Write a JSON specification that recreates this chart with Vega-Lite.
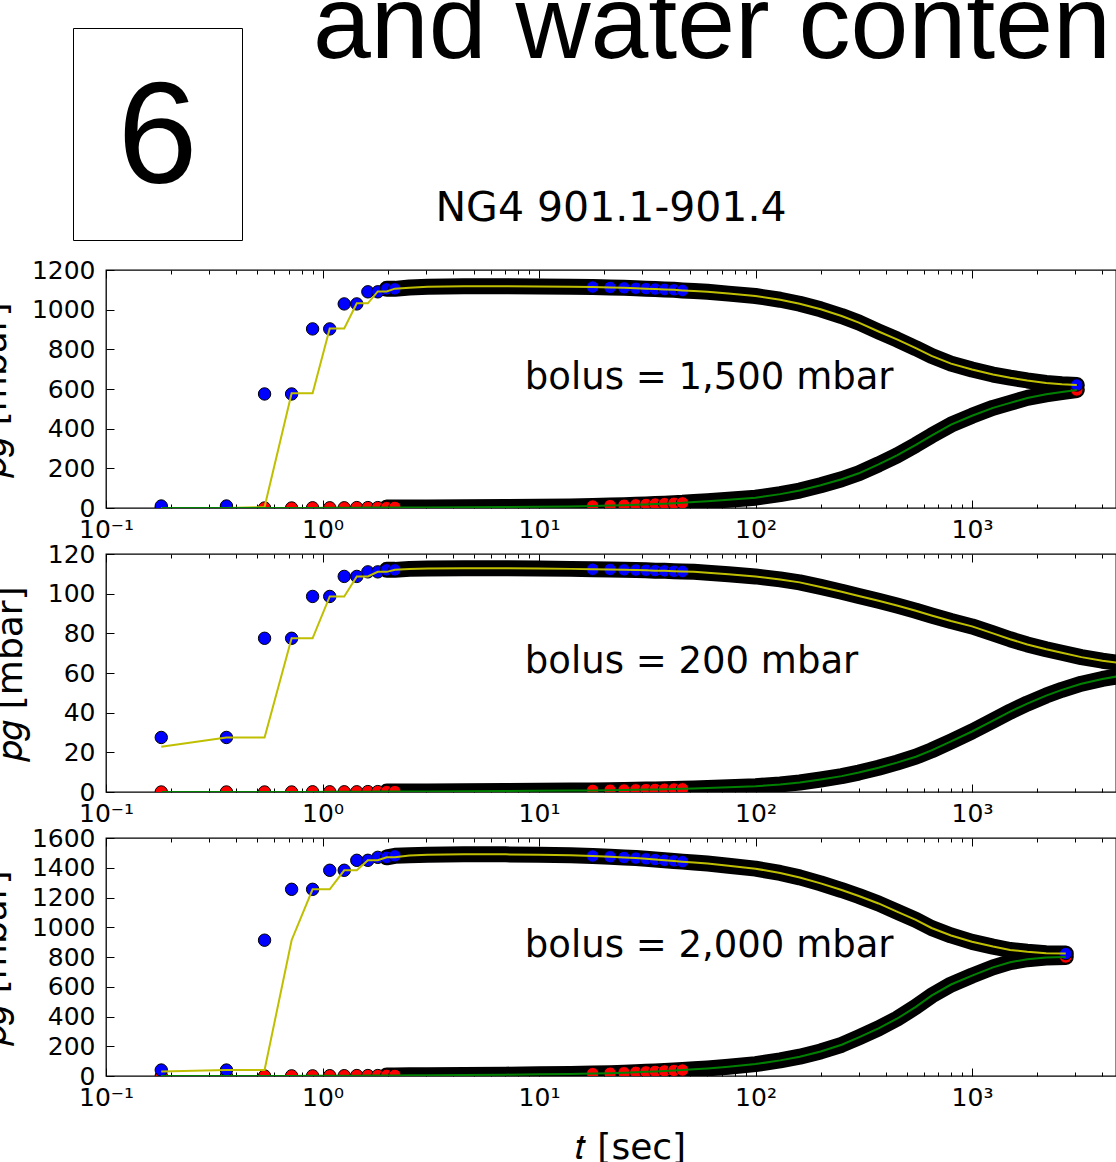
{
  "$schema": "https://vega.github.io/schema/vega-lite/v6.json",
  "background": "white",
  "padding": {"left": -25, "top": -26, "right": 0, "bottom": 0},
  "config": {
    "view": {"stroke": "black", "strokeWidth": 1.3},
    "axis": {"grid": false, "domain": false, "labelFont": "DejaVu Sans", "labelFontSize": 25, "labelColor": "black", "labelFontWeight": "normal", "titleFont": "DejaVu Sans", "titleFontSize": 36, "titleFontWeight": "normal", "titleColor": "black", "tickColor": "black", "tickWidth": 1, "labelOverlap": false, "labelFlush": false, "labelBound": false},
    "title": {"color": "black", "fontWeight": "normal"}
  },
  "datasets": {
    "p1": [
      {"t":0.18,"hi":10,"lo":0,"fhi":0,"flo":0},
      {"t":0.36,"hi":10,"lo":0,"fhi":0,"flo":0},
      {"t":0.54,"hi":575,"lo":0,"fhi":5,"flo":0},
      {"t":0.72,"hi":575,"lo":0,"fhi":578,"flo":0},
      {"t":0.9,"hi":903,"lo":1,"fhi":578,"flo":0},
      {"t":1.08,"hi":903,"lo":1,"fhi":905,"flo":1},
      {"t":1.26,"hi":1029,"lo":1,"fhi":905,"flo":1},
      {"t":1.44,"hi":1029,"lo":2,"fhi":1032,"flo":1},
      {"t":1.62,"hi":1090,"lo":2,"fhi":1032,"flo":2},
      {"t":1.8,"hi":1090,"lo":2,"fhi":1092,"flo":2},
      {"t":1.98,"hi":1105,"lo":2,"fhi":1092,"flo":2},
      {"t":2.16,"hi":1105,"lo":3,"fhi":1106,"flo":2},
      {"t":2.52,"hi":1112,"lo":3,"fhi":1110,"flo":3},
      {"t":3.06,"hi":1116,"lo":3,"fhi":1115,"flo":3},
      {"t":4.5,"hi":1118,"lo":4,"fhi":1118,"flo":4},
      {"t":7,"hi":1118,"lo":5,"fhi":1118,"flo":5},
      {"t":10,"hi":1117,"lo":6,"fhi":1117,"flo":6},
      {"t":14,"hi":1116,"lo":8,"fhi":1116,"flo":8},
      {"t":17.7,"hi":1114,"lo":10,"fhi":1114,"flo":10},
      {"t":21.3,"hi":1112,"lo":12,"fhi":1112,"flo":12},
      {"t":24.7,"hi":1110,"lo":14,"fhi":1110,"flo":14},
      {"t":28,"hi":1108,"lo":16,"fhi":1108,"flo":16},
      {"t":31.2,"hi":1106,"lo":18,"fhi":1106,"flo":18},
      {"t":34.4,"hi":1104,"lo":20,"fhi":1104,"flo":20},
      {"t":38,"hi":1102,"lo":22,"fhi":1102,"flo":22},
      {"t":42,"hi":1100,"lo":24,"fhi":1100,"flo":24},
      {"t":46,"hi":1097,"lo":26,"fhi":1097,"flo":26},
      {"t":52,"hi":1094,"lo":30,"fhi":1094,"flo":30},
      {"t":60,"hi":1090,"lo":34,"fhi":1090,"flo":34},
      {"t":75,"hi":1081,"lo":42,"fhi":1081,"flo":42},
      {"t":100,"hi":1069,"lo":52,"fhi":1069,"flo":52},
      {"t":130,"hi":1050,"lo":70,"fhi":1050,"flo":70},
      {"t":160,"hi":1030,"lo":88,"fhi":1030,"flo":88},
      {"t":200,"hi":1002,"lo":115,"fhi":1002,"flo":115},
      {"t":250,"hi":968,"lo":145,"fhi":968,"flo":145},
      {"t":300,"hi":935,"lo":175,"fhi":935,"flo":175},
      {"t":370,"hi":890,"lo":220,"fhi":890,"flo":220},
      {"t":450,"hi":850,"lo":265,"fhi":850,"flo":265},
      {"t":550,"hi":806,"lo":318,"fhi":806,"flo":318},
      {"t":650,"hi":767,"lo":365,"fhi":767,"flo":365},
      {"t":800,"hi":728,"lo":420,"fhi":728,"flo":420},
      {"t":1000,"hi":698,"lo":465,"fhi":698,"flo":465},
      {"t":1250,"hi":673,"lo":505,"fhi":673,"flo":505},
      {"t":1500,"hi":657,"lo":530,"fhi":657,"flo":530},
      {"t":1800,"hi":643,"lo":555,"fhi":643,"flo":555},
      {"t":2200,"hi":630,"lo":573,"fhi":630,"flo":573},
      {"t":2600,"hi":624,"lo":585,"fhi":624,"flo":585},
      {"t":3048,"hi":620,"lo":595,"fhi":620,"flo":595}
    ],
    "p2": [
      {"t":0.18,"hi":27.5,"lo":0,"fhi":22.8,"flo":0},
      {"t":0.36,"hi":27.5,"lo":0,"fhi":27.5,"flo":0},
      {"t":0.54,"hi":77.5,"lo":0,"fhi":27.5,"flo":0},
      {"t":0.72,"hi":77.5,"lo":0,"fhi":77.5,"flo":0},
      {"t":0.9,"hi":98.6,"lo":0.1,"fhi":77.5,"flo":0},
      {"t":1.08,"hi":98.6,"lo":0.1,"fhi":98.6,"flo":0.1},
      {"t":1.26,"hi":108.7,"lo":0.1,"fhi":98.6,"flo":0.1},
      {"t":1.44,"hi":108.7,"lo":0.1,"fhi":108.7,"flo":0.1},
      {"t":1.62,"hi":111,"lo":0.2,"fhi":108.7,"flo":0.1},
      {"t":1.8,"hi":111,"lo":0.2,"fhi":111,"flo":0.2},
      {"t":1.98,"hi":112,"lo":0.2,"fhi":111,"flo":0.2},
      {"t":2.16,"hi":112,"lo":0.2,"fhi":112,"flo":0.2},
      {"t":2.52,"hi":112.5,"lo":0.3,"fhi":112.4,"flo":0.3},
      {"t":3.06,"hi":112.7,"lo":0.3,"fhi":112.7,"flo":0.3},
      {"t":4.5,"hi":112.8,"lo":0.4,"fhi":112.8,"flo":0.4},
      {"t":7,"hi":112.8,"lo":0.5,"fhi":112.8,"flo":0.5},
      {"t":10,"hi":112.7,"lo":0.6,"fhi":112.7,"flo":0.6},
      {"t":14,"hi":112.5,"lo":0.7,"fhi":112.5,"flo":0.7},
      {"t":17.7,"hi":112.3,"lo":0.8,"fhi":112.3,"flo":0.8},
      {"t":21.3,"hi":112.2,"lo":0.9,"fhi":112.2,"flo":0.9},
      {"t":24.7,"hi":112,"lo":1,"fhi":112,"flo":1},
      {"t":28,"hi":111.9,"lo":1.1,"fhi":111.9,"flo":1.1},
      {"t":31.2,"hi":111.8,"lo":1.2,"fhi":111.8,"flo":1.2},
      {"t":34.4,"hi":111.6,"lo":1.3,"fhi":111.6,"flo":1.3},
      {"t":38,"hi":111.5,"lo":1.4,"fhi":111.5,"flo":1.4},
      {"t":42,"hi":111.3,"lo":1.5,"fhi":111.3,"flo":1.5},
      {"t":46,"hi":111.2,"lo":1.6,"fhi":111.2,"flo":1.6},
      {"t":52,"hi":111,"lo":1.8,"fhi":111,"flo":1.8},
      {"t":60,"hi":110.6,"lo":2,"fhi":110.6,"flo":2},
      {"t":75,"hi":109.8,"lo":2.4,"fhi":109.8,"flo":2.4},
      {"t":100,"hi":108.7,"lo":2.9,"fhi":108.7,"flo":2.9},
      {"t":130,"hi":107.2,"lo":3.8,"fhi":107.2,"flo":3.8},
      {"t":160,"hi":105.7,"lo":4.8,"fhi":105.7,"flo":4.8},
      {"t":200,"hi":103.4,"lo":6.3,"fhi":103.4,"flo":6.3},
      {"t":250,"hi":101,"lo":8,"fhi":101,"flo":8},
      {"t":300,"hi":98.8,"lo":9.8,"fhi":98.8,"flo":9.8},
      {"t":370,"hi":96.4,"lo":12.2,"fhi":96.4,"flo":12.2},
      {"t":450,"hi":94,"lo":14.8,"fhi":94,"flo":14.8},
      {"t":550,"hi":91.4,"lo":17.8,"fhi":91.4,"flo":17.8},
      {"t":650,"hi":89,"lo":21,"fhi":89,"flo":21},
      {"t":800,"hi":86.2,"lo":25.5,"fhi":86.2,"flo":25.5},
      {"t":1000,"hi":83.5,"lo":30.5,"fhi":83.5,"flo":30.5},
      {"t":1250,"hi":80,"lo":36,"fhi":80,"flo":36},
      {"t":1500,"hi":77,"lo":40.5,"fhi":77,"flo":40.5},
      {"t":1800,"hi":74.4,"lo":44.6,"fhi":74.4,"flo":44.6},
      {"t":2200,"hi":72,"lo":48.6,"fhi":72,"flo":48.6},
      {"t":2600,"hi":70.2,"lo":51.5,"fhi":70.2,"flo":51.5},
      {"t":3200,"hi":68,"lo":54.6,"fhi":68,"flo":54.6},
      {"t":4000,"hi":66.2,"lo":57,"fhi":66.2,"flo":57},
      {"t":5000,"hi":64.8,"lo":58.8,"fhi":64.8,"flo":58.8}
    ],
    "p3": [
      {"t":0.18,"hi":40,"lo":0,"fhi":29.5,"flo":0},
      {"t":0.36,"hi":40,"lo":0,"fhi":40,"flo":0},
      {"t":0.54,"hi":913,"lo":0,"fhi":40,"flo":0},
      {"t":0.72,"hi":1255,"lo":1,"fhi":913,"flo":0},
      {"t":0.9,"hi":1255,"lo":1,"fhi":1255,"flo":1},
      {"t":1.08,"hi":1383,"lo":2,"fhi":1255,"flo":1},
      {"t":1.26,"hi":1383,"lo":2,"fhi":1383,"flo":2},
      {"t":1.44,"hi":1450,"lo":3,"fhi":1383,"flo":2},
      {"t":1.62,"hi":1450,"lo":3,"fhi":1450,"flo":3},
      {"t":1.8,"hi":1470,"lo":3,"fhi":1450,"flo":3},
      {"t":1.98,"hi":1470,"lo":4,"fhi":1470,"flo":3},
      {"t":2.16,"hi":1480,"lo":4,"fhi":1470,"flo":4},
      {"t":2.52,"hi":1484,"lo":5,"fhi":1483,"flo":5},
      {"t":3.06,"hi":1488,"lo":5,"fhi":1488,"flo":5},
      {"t":4.5,"hi":1490,"lo":7,"fhi":1490,"flo":7},
      {"t":7,"hi":1490,"lo":9,"fhi":1490,"flo":9},
      {"t":10,"hi":1488,"lo":11,"fhi":1488,"flo":11},
      {"t":14,"hi":1484,"lo":14,"fhi":1484,"flo":14},
      {"t":17.7,"hi":1479,"lo":16,"fhi":1479,"flo":16},
      {"t":21.3,"hi":1474,"lo":19,"fhi":1474,"flo":19},
      {"t":24.7,"hi":1469,"lo":22,"fhi":1469,"flo":22},
      {"t":28,"hi":1465,"lo":25,"fhi":1465,"flo":25},
      {"t":31.2,"hi":1460,"lo":28,"fhi":1460,"flo":28},
      {"t":34.4,"hi":1455,"lo":31,"fhi":1455,"flo":31},
      {"t":38,"hi":1450,"lo":34,"fhi":1450,"flo":34},
      {"t":42,"hi":1446,"lo":37,"fhi":1446,"flo":37},
      {"t":46,"hi":1441,"lo":40,"fhi":1441,"flo":40},
      {"t":52,"hi":1435,"lo":45,"fhi":1435,"flo":45},
      {"t":60,"hi":1428,"lo":51,"fhi":1428,"flo":51},
      {"t":75,"hi":1414,"lo":62,"fhi":1414,"flo":62},
      {"t":100,"hi":1394,"lo":80,"fhi":1394,"flo":80},
      {"t":130,"hi":1365,"lo":105,"fhi":1365,"flo":105},
      {"t":160,"hi":1335,"lo":130,"fhi":1335,"flo":130},
      {"t":200,"hi":1295,"lo":165,"fhi":1295,"flo":165},
      {"t":250,"hi":1250,"lo":210,"fhi":1250,"flo":210},
      {"t":300,"hi":1210,"lo":260,"fhi":1210,"flo":260},
      {"t":370,"hi":1160,"lo":320,"fhi":1160,"flo":320},
      {"t":450,"hi":1105,"lo":385,"fhi":1105,"flo":385},
      {"t":550,"hi":1050,"lo":465,"fhi":1050,"flo":465},
      {"t":650,"hi":995,"lo":540,"fhi":995,"flo":540},
      {"t":800,"hi":945,"lo":615,"fhi":945,"flo":615},
      {"t":1000,"hi":902,"lo":675,"fhi":902,"flo":675},
      {"t":1250,"hi":870,"lo":730,"fhi":870,"flo":730},
      {"t":1500,"hi":847,"lo":765,"fhi":847,"flo":765},
      {"t":1800,"hi":835,"lo":785,"fhi":835,"flo":785},
      {"t":2200,"hi":826,"lo":796,"fhi":826,"flo":796},
      {"t":2710,"hi":823,"lo":800,"fhi":823,"flo":800}
    ]
  },
  "spacing": -54,
  "vconcat": [
    {
      "concat": [
        {"width": 1, "height": 1, "view": {"stroke": null}, "data": {"values": []}, "mark": {"type": "point", "opacity": 0}},
        {
          "width": 169, "height": 212,
          "view": {"stroke": "black", "strokeWidth": 1},
          "title": {"text": "and water conten", "font": "Liberation Sans", "fontSize": 104, "fontWeight": "normal", "color": "black", "anchor": "start", "frame": "group", "baseline": "alphabetic", "offset": -134, "dx": 240},
          "data": {"values": [{"label": "6"}]},
          "mark": {"type": "text", "font": "Liberation Sans", "fontSize": 144, "color": "black", "align": "center", "baseline": "middle", "dy": 6},
          "encoding": {"text": {"field": "label", "type": "nominal"}}
        }
      ],
      "columns": 2,
      "align": "none",
      "spacing": -35
    },
    {
      "spacing": -2,
      "vconcat": [
        {
          "width": 1010, "height": 238,
          "title": {"text": "NG4 901.1-901.4", "font": "DejaVu Sans", "fontSize": 41, "fontWeight": "normal", "color": "black", "anchor": "middle", "frame": "group", "baseline": "alphabetic", "offset": -4},
          "data": {"name": "p1"},
          "resolve": {"axis": {"x": "independent", "y": "independent"}},
          "layer": [
            {"transform": [{"filter": "datum.t > 1.9"}], "mark": {"type": "line", "color": "black", "strokeWidth": 16, "strokeCap": "round", "strokeJoin": "round", "clip": true},
             "encoding": {"x": {"field": "t", "type": "quantitative", "scale": {"type": "log", "domain": [0.1, 4624], "nice": false}, "axis": {"orient": "bottom", "values": [0.1, 1, 10, 100, 1000], "ticks": false, "labelPadding": 9, "title": null, "labelExpr": "datum.value < 0.5 ? '10⁻¹' : datum.value < 5 ? '10⁰' : datum.value < 50 ? '10¹' : datum.value < 500 ? '10²' : '10³'"}},
                          "y": {"field": "hi", "type": "quantitative", "scale": {"domain": [0, 1200], "nice": false}, "axis": {"orient": "left", "values": [0, 200, 400, 600, 800, 1000, 1200], "format": "d", "ticks": false, "labelPadding": 11, "title": "𝑝𝑔 [mbar]", "titlePadding": 18}}}},
            {"transform": [{"filter": "datum.t > 1.9"}], "mark": {"type": "line", "color": "black", "strokeWidth": 16, "strokeCap": "round", "strokeJoin": "round", "clip": true},
             "encoding": {"x": {"field": "t", "type": "quantitative", "scale": {"type": "log", "domain": [0.1, 4624], "nice": false}, "axis": {"orient": "bottom", "values": [0.1, 1, 10, 100, 1000], "labels": false, "tickSize": -8, "title": null}},
                          "y": {"field": "lo", "type": "quantitative", "scale": {"domain": [0, 1200], "nice": false}, "axis": {"orient": "left", "values": [0, 200, 400, 600, 800, 1000, 1200], "labels": false, "tickSize": -8, "title": null}}}},
            {"transform": [{"filter": "datum.t < 2.3 || (datum.t > 17 && datum.t < 50) || datum.t > 3000"}], "mark": {"type": "circle", "size": 154, "fill": "#ff0000", "opacity": 1, "stroke": "black", "strokeWidth": 1, "clip": true},
             "encoding": {"x": {"field": "t", "type": "quantitative", "scale": {"type": "log", "domain": [0.1, 4624], "nice": false}, "axis": {"orient": "bottom", "values": [0.2,0.3,0.4,0.5,0.6,0.7,0.8,0.9,2,3,4,5,6,7,8,9,20,30,40,50,60,70,80,90,200,300,400,500,600,700,800,900,2000,3000,4000], "labels": false, "tickSize": -4, "title": null}},
                          "y": {"field": "lo", "type": "quantitative", "scale": {"domain": [0, 1200], "nice": false}, "axis": null}}},
            {"transform": [{"filter": "datum.t < 2.3 || (datum.t > 17 && datum.t < 50) || datum.t > 3000"}], "mark": {"type": "circle", "size": 154, "fill": "#0000ff", "opacity": 1, "stroke": "black", "strokeWidth": 1, "clip": true},
             "encoding": {"x": {"field": "t", "type": "quantitative", "scale": {"type": "log", "domain": [0.1, 4624], "nice": false}, "axis": {"orient": "top", "values": [0.1, 1, 10, 100, 1000], "labels": false, "tickSize": -8, "title": null}},
                          "y": {"field": "hi", "type": "quantitative", "scale": {"domain": [0, 1200], "nice": false}, "axis": null}}},
            {"mark": {"type": "line", "color": "#bfbf00", "strokeWidth": 2, "clip": true},
             "encoding": {"x": {"field": "t", "type": "quantitative", "scale": {"type": "log", "domain": [0.1, 4624], "nice": false}, "axis": {"orient": "top", "values": [0.2,0.3,0.4,0.5,0.6,0.7,0.8,0.9,2,3,4,5,6,7,8,9,20,30,40,50,60,70,80,90,200,300,400,500,600,700,800,900,2000,3000,4000], "labels": false, "tickSize": -4, "title": null}},
                          "y": {"field": "fhi", "type": "quantitative", "scale": {"domain": [0, 1200], "nice": false}, "axis": null}}},
            {"mark": {"type": "line", "color": "#008000", "strokeWidth": 2, "clip": true},
             "encoding": {"x": {"field": "t", "type": "quantitative", "scale": {"type": "log", "domain": [0.1, 4624], "nice": false}, "axis": null},
                          "y": {"field": "flo", "type": "quantitative", "scale": {"domain": [0, 1200], "nice": false}, "axis": null}}},
            {"data": {"values": [{"t": 8.6, "p": 600, "label": "bolus = 1,500 mbar"}]},
             "mark": {"type": "text", "font": "DejaVu Sans", "fontSize": 37, "color": "black", "align": "left", "baseline": "alphabetic"},
             "encoding": {"x": {"field": "t", "type": "quantitative", "scale": {"type": "log", "domain": [0.1, 4624], "nice": false}, "axis": null},
                          "y": {"field": "p", "type": "quantitative", "scale": {"domain": [0, 1200], "nice": false}, "axis": null},
                          "text": {"field": "label", "type": "nominal"}}}
          ]
        },
        {
          "width": 1010, "height": 238,
          "data": {"name": "p2"},
          "resolve": {"axis": {"x": "independent", "y": "independent"}},
          "layer": [
            {"transform": [{"filter": "datum.t > 1.9"}], "mark": {"type": "line", "color": "black", "strokeWidth": 16, "strokeCap": "round", "strokeJoin": "round", "clip": true},
             "encoding": {"x": {"field": "t", "type": "quantitative", "scale": {"type": "log", "domain": [0.1, 4624], "nice": false}, "axis": {"orient": "bottom", "values": [0.1, 1, 10, 100, 1000], "ticks": false, "labelPadding": 9, "title": null, "labelExpr": "datum.value < 0.5 ? '10⁻¹' : datum.value < 5 ? '10⁰' : datum.value < 50 ? '10¹' : datum.value < 500 ? '10²' : '10³'"}},
                          "y": {"field": "hi", "type": "quantitative", "scale": {"domain": [0, 120], "nice": false}, "axis": {"orient": "left", "values": [0, 20, 40, 60, 80, 100, 120], "format": "d", "ticks": false, "labelPadding": 11, "title": "𝑝𝑔 [mbar]", "titlePadding": 18}}}},
            {"transform": [{"filter": "datum.t > 1.9"}], "mark": {"type": "line", "color": "black", "strokeWidth": 16, "strokeCap": "round", "strokeJoin": "round", "clip": true},
             "encoding": {"x": {"field": "t", "type": "quantitative", "scale": {"type": "log", "domain": [0.1, 4624], "nice": false}, "axis": {"orient": "bottom", "values": [0.1, 1, 10, 100, 1000], "labels": false, "tickSize": -8, "title": null}},
                          "y": {"field": "lo", "type": "quantitative", "scale": {"domain": [0, 120], "nice": false}, "axis": {"orient": "left", "values": [0, 20, 40, 60, 80, 100, 120], "labels": false, "tickSize": -8, "title": null}}}},
            {"transform": [{"filter": "datum.t < 2.3 || (datum.t > 17 && datum.t < 50)"}], "mark": {"type": "circle", "size": 154, "fill": "#ff0000", "opacity": 1, "stroke": "black", "strokeWidth": 1, "clip": true},
             "encoding": {"x": {"field": "t", "type": "quantitative", "scale": {"type": "log", "domain": [0.1, 4624], "nice": false}, "axis": {"orient": "bottom", "values": [0.2,0.3,0.4,0.5,0.6,0.7,0.8,0.9,2,3,4,5,6,7,8,9,20,30,40,50,60,70,80,90,200,300,400,500,600,700,800,900,2000,3000,4000], "labels": false, "tickSize": -4, "title": null}},
                          "y": {"field": "lo", "type": "quantitative", "scale": {"domain": [0, 120], "nice": false}, "axis": null}}},
            {"transform": [{"filter": "datum.t < 2.3 || (datum.t > 17 && datum.t < 50)"}], "mark": {"type": "circle", "size": 154, "fill": "#0000ff", "opacity": 1, "stroke": "black", "strokeWidth": 1, "clip": true},
             "encoding": {"x": {"field": "t", "type": "quantitative", "scale": {"type": "log", "domain": [0.1, 4624], "nice": false}, "axis": {"orient": "top", "values": [0.1, 1, 10, 100, 1000], "labels": false, "tickSize": -8, "title": null}},
                          "y": {"field": "hi", "type": "quantitative", "scale": {"domain": [0, 120], "nice": false}, "axis": null}}},
            {"mark": {"type": "line", "color": "#bfbf00", "strokeWidth": 2, "clip": true},
             "encoding": {"x": {"field": "t", "type": "quantitative", "scale": {"type": "log", "domain": [0.1, 4624], "nice": false}, "axis": {"orient": "top", "values": [0.2,0.3,0.4,0.5,0.6,0.7,0.8,0.9,2,3,4,5,6,7,8,9,20,30,40,50,60,70,80,90,200,300,400,500,600,700,800,900,2000,3000,4000], "labels": false, "tickSize": -4, "title": null}},
                          "y": {"field": "fhi", "type": "quantitative", "scale": {"domain": [0, 120], "nice": false}, "axis": null}}},
            {"mark": {"type": "line", "color": "#008000", "strokeWidth": 2, "clip": true},
             "encoding": {"x": {"field": "t", "type": "quantitative", "scale": {"type": "log", "domain": [0.1, 4624], "nice": false}, "axis": null},
                          "y": {"field": "flo", "type": "quantitative", "scale": {"domain": [0, 120], "nice": false}, "axis": null}}},
            {"data": {"values": [{"t": 8.6, "p": 60, "label": "bolus = 200 mbar"}]},
             "mark": {"type": "text", "font": "DejaVu Sans", "fontSize": 37, "color": "black", "align": "left", "baseline": "alphabetic"},
             "encoding": {"x": {"field": "t", "type": "quantitative", "scale": {"type": "log", "domain": [0.1, 4624], "nice": false}, "axis": null},
                          "y": {"field": "p", "type": "quantitative", "scale": {"domain": [0, 120], "nice": false}, "axis": null},
                          "text": {"field": "label", "type": "nominal"}}}
          ]
        },
        {
          "width": 1010, "height": 238,
          "data": {"name": "p3"},
          "resolve": {"axis": {"x": "independent", "y": "independent"}},
          "layer": [
            {"transform": [{"filter": "datum.t > 1.9"}], "mark": {"type": "line", "color": "black", "strokeWidth": 16, "strokeCap": "round", "strokeJoin": "round", "clip": true},
             "encoding": {"x": {"field": "t", "type": "quantitative", "scale": {"type": "log", "domain": [0.1, 4624], "nice": false}, "axis": {"orient": "bottom", "values": [0.1, 1, 10, 100, 1000], "ticks": false, "labelPadding": 9, "title": "𝑡 [sec]", "titlePadding": 20, "titleX": 524, "labelExpr": "datum.value < 0.5 ? '10⁻¹' : datum.value < 5 ? '10⁰' : datum.value < 50 ? '10¹' : datum.value < 500 ? '10²' : '10³'"}},
                          "y": {"field": "hi", "type": "quantitative", "scale": {"domain": [0, 1600], "nice": false}, "axis": {"orient": "left", "values": [0, 200, 400, 600, 800, 1000, 1200, 1400, 1600], "format": "d", "ticks": false, "labelPadding": 11, "title": "𝑝𝑔 [mbar]", "titlePadding": 18}}}},
            {"transform": [{"filter": "datum.t > 1.9"}], "mark": {"type": "line", "color": "black", "strokeWidth": 16, "strokeCap": "round", "strokeJoin": "round", "clip": true},
             "encoding": {"x": {"field": "t", "type": "quantitative", "scale": {"type": "log", "domain": [0.1, 4624], "nice": false}, "axis": {"orient": "bottom", "values": [0.1, 1, 10, 100, 1000], "labels": false, "tickSize": -8, "title": null}},
                          "y": {"field": "lo", "type": "quantitative", "scale": {"domain": [0, 1600], "nice": false}, "axis": {"orient": "left", "values": [0, 200, 400, 600, 800, 1000, 1200, 1400, 1600], "labels": false, "tickSize": -8, "title": null}}}},
            {"transform": [{"filter": "datum.t < 2.3 || (datum.t > 17 && datum.t < 50) || datum.t > 2700"}], "mark": {"type": "circle", "size": 154, "fill": "#ff0000", "opacity": 1, "stroke": "black", "strokeWidth": 1, "clip": true},
             "encoding": {"x": {"field": "t", "type": "quantitative", "scale": {"type": "log", "domain": [0.1, 4624], "nice": false}, "axis": {"orient": "bottom", "values": [0.2,0.3,0.4,0.5,0.6,0.7,0.8,0.9,2,3,4,5,6,7,8,9,20,30,40,50,60,70,80,90,200,300,400,500,600,700,800,900,2000,3000,4000], "labels": false, "tickSize": -4, "title": null}},
                          "y": {"field": "lo", "type": "quantitative", "scale": {"domain": [0, 1600], "nice": false}, "axis": null}}},
            {"transform": [{"filter": "datum.t < 2.3 || (datum.t > 17 && datum.t < 50) || datum.t > 2700"}], "mark": {"type": "circle", "size": 154, "fill": "#0000ff", "opacity": 1, "stroke": "black", "strokeWidth": 1, "clip": true},
             "encoding": {"x": {"field": "t", "type": "quantitative", "scale": {"type": "log", "domain": [0.1, 4624], "nice": false}, "axis": {"orient": "top", "values": [0.1, 1, 10, 100, 1000], "labels": false, "tickSize": -8, "title": null}},
                          "y": {"field": "hi", "type": "quantitative", "scale": {"domain": [0, 1600], "nice": false}, "axis": null}}},
            {"mark": {"type": "line", "color": "#bfbf00", "strokeWidth": 2, "clip": true},
             "encoding": {"x": {"field": "t", "type": "quantitative", "scale": {"type": "log", "domain": [0.1, 4624], "nice": false}, "axis": {"orient": "top", "values": [0.2,0.3,0.4,0.5,0.6,0.7,0.8,0.9,2,3,4,5,6,7,8,9,20,30,40,50,60,70,80,90,200,300,400,500,600,700,800,900,2000,3000,4000], "labels": false, "tickSize": -4, "title": null}},
                          "y": {"field": "fhi", "type": "quantitative", "scale": {"domain": [0, 1600], "nice": false}, "axis": null}}},
            {"mark": {"type": "line", "color": "#008000", "strokeWidth": 2, "clip": true},
             "encoding": {"x": {"field": "t", "type": "quantitative", "scale": {"type": "log", "domain": [0.1, 4624], "nice": false}, "axis": null},
                          "y": {"field": "flo", "type": "quantitative", "scale": {"domain": [0, 1600], "nice": false}, "axis": null}}},
            {"data": {"values": [{"t": 8.6, "p": 800, "label": "bolus = 2,000 mbar"}]},
             "mark": {"type": "text", "font": "DejaVu Sans", "fontSize": 37, "color": "black", "align": "left", "baseline": "alphabetic"},
             "encoding": {"x": {"field": "t", "type": "quantitative", "scale": {"type": "log", "domain": [0.1, 4624], "nice": false}, "axis": null},
                          "y": {"field": "p", "type": "quantitative", "scale": {"domain": [0, 1600], "nice": false}, "axis": null},
                          "text": {"field": "label", "type": "nominal"}}}
          ]
        }
      ]
    }
  ]
}
